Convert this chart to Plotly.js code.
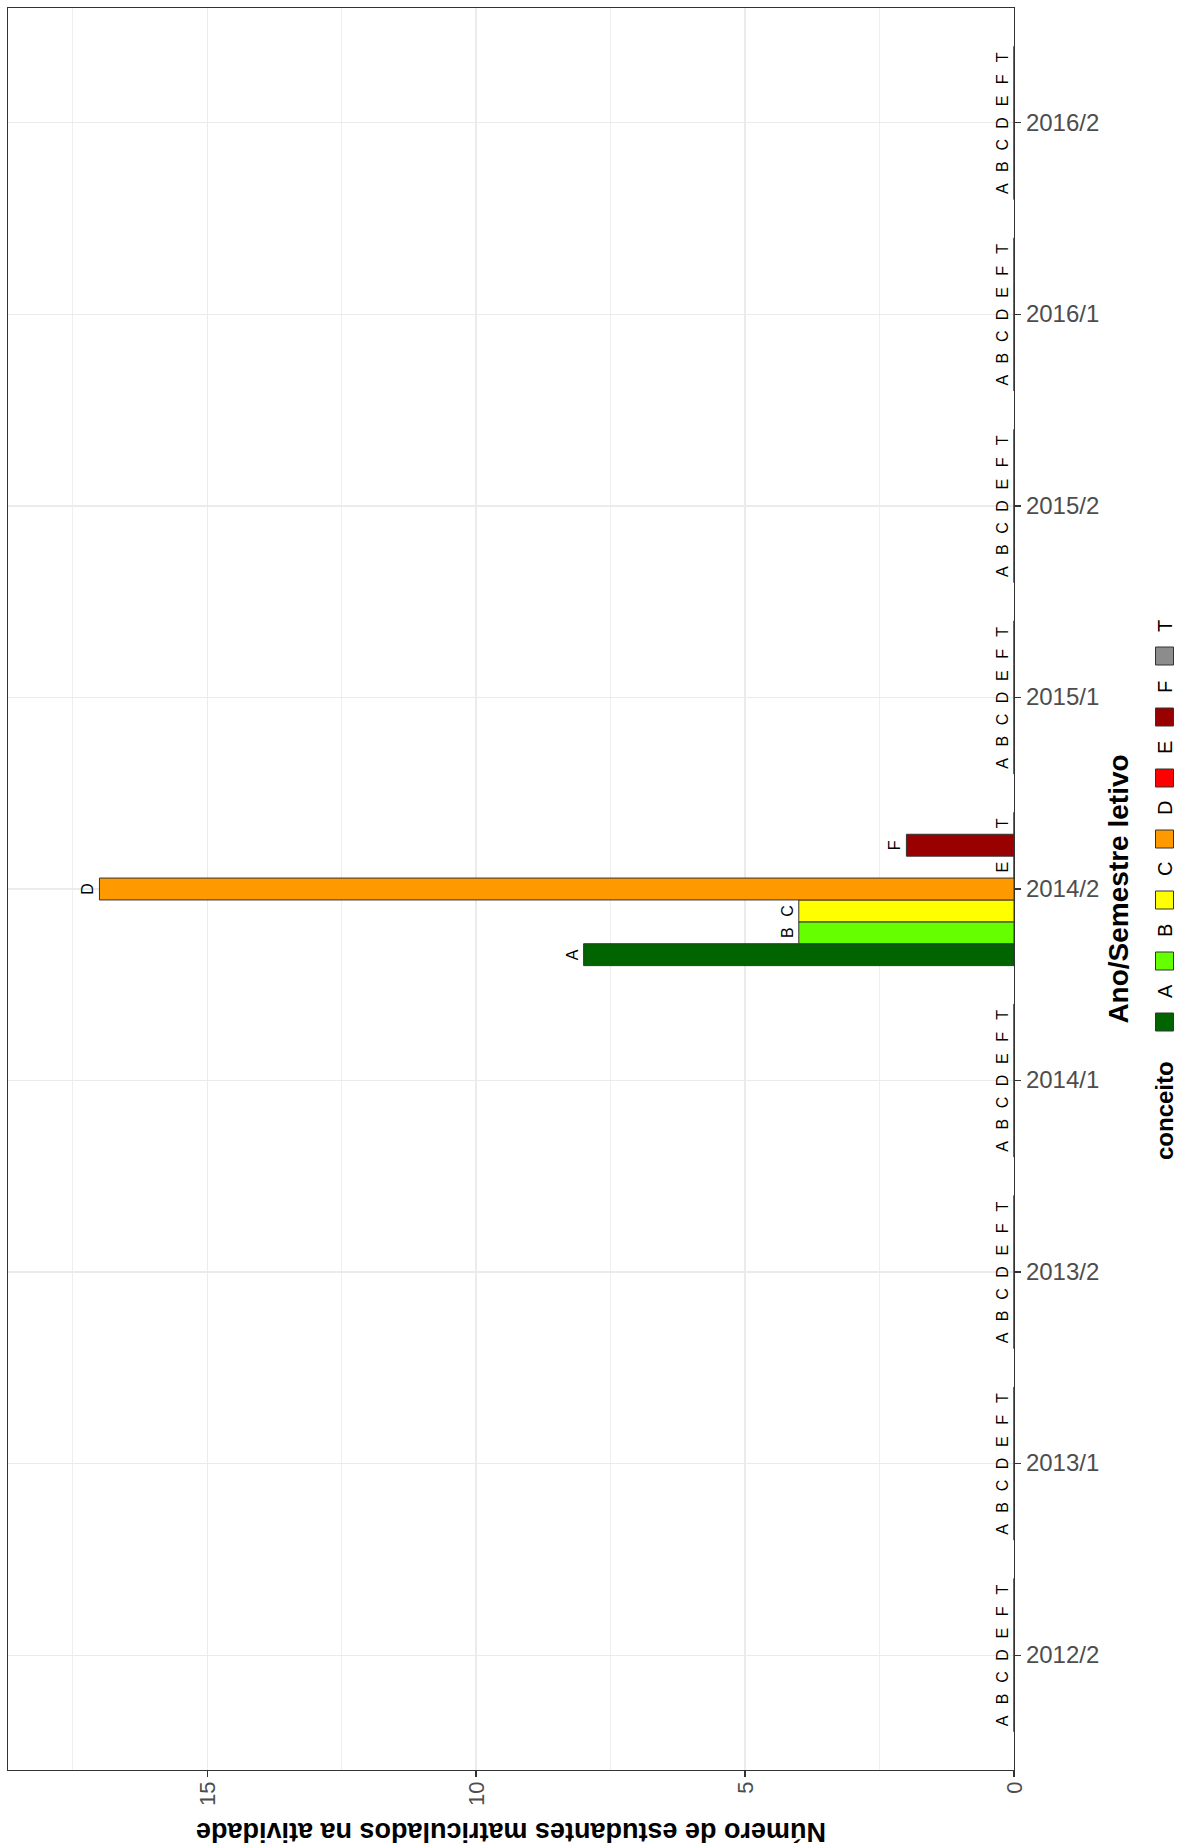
<!DOCTYPE html>
<html>
<head>
<meta charset="utf-8">
<script src="https://cdn.plot.ly/plotly-3.0.1.min.js"></script>
<style>
html, body { margin: 0; padding: 0; overflow: hidden; background: #ffffff; width: 1179px; height: 1847px; }
#wrap { position: absolute; left: 0; top: 0; width: 1847px; height: 1179px;
        transform-origin: 0 0; transform: translate(0px, 1847px) rotate(-90deg); }
</style>
</head>
<body>
<div id="wrap"></div>
<script>
// ---- data ----
const semesters = ['2012/2', '2013/1', '2013/2', '2014/1', '2014/2', '2015/1', '2015/2', '2016/1', '2016/2'];
const conceitos = ['A', 'B', 'C', 'D', 'E', 'F', 'T'];
const countA = [0, 0, 0, 0, 8, 0, 0, 0, 0];
const countB = [0, 0, 0, 0, 4, 0, 0, 0, 0];
const countC = [0, 0, 0, 0, 4, 0, 0, 0, 0];
const countD = [0, 0, 0, 0, 17, 0, 0, 0, 0];
const countE = [0, 0, 0, 0, 0, 0, 0, 0, 0];
const countF = [0, 0, 0, 0, 2, 0, 0, 0, 0];
const countT = [0, 0, 0, 0, 0, 0, 0, 0, 0];
const yTicks = [0, 5, 10, 15];
const yMinorTicks = [2.5, 7.5, 12.5, 17.5];
const colors = ['#006400', '#66FF00', '#FFFF00', '#FF9900', '#FF0000', '#990000', '#8C8C8C'];
const xTitle = 'Ano/Semestre letivo';
const yTitle = 'Número de estudantes matriculados na atividade';
const legendTitle = 'conceito';

const counts = [countA, countB, countC, countD, countE, countF, countT];

// ---- layout constants (unrotated figure, rotated by CSS) ----
const W = 1847, H = 1179;
const M = {l: 77, r: 8, t: 8, b: 165};
const PW = W - M.l - M.r, PH = H - M.t - M.b;
const FONT = 'Liberation Sans, Arial, Helvetica, sans-serif';
const px2x = px => (px - M.l) / PW;
const px2y = py => (H - M.b - py) / PH;

const traces = conceitos.map((c, i) => ({
  type: 'bar',
  name: c,
  x: semesters,
  y: counts[i],
  marker: {color: colors[i], line: {color: '#333333', width: 1}},
  text: semesters.map(() => c),
  textposition: 'outside',
  textangle: 0,
  textfont: {family: FONT, size: 16, color: '#000000'},
  cliponaxis: false,
  showlegend: false,
  hoverinfo: 'none'
}));

// manual legend (keys + labels)
const shapes = [];
const annotations = [];
const keyY = 1164.5, keySize = 18, keyX0 = 816, pitch = 61;
conceitos.forEach((c, i) => {
  const x0 = keyX0 + i * pitch;
  shapes.push({type: 'rect', xref: 'paper', yref: 'paper',
    x0: px2x(x0), x1: px2x(x0 + keySize), y0: px2y(keyY + keySize / 2), y1: px2y(keyY - keySize / 2),
    fillcolor: colors[i], line: {color: '#333333', width: 1}});
  annotations.push({xref: 'paper', yref: 'paper', x: px2x(x0 + 31), y: px2y(keyY),
    xanchor: 'left', yanchor: 'middle', text: c, showarrow: false,
    font: {family: FONT, size: 20, color: '#000000'}});
});
annotations.push({xref: 'paper', yref: 'paper', x: px2x(788), y: px2y(keyY),
  xanchor: 'right', yanchor: 'middle', text: '<b>' + legendTitle + '</b>', showarrow: false,
  font: {family: FONT, size: 24, color: '#000000'}});

const layout = {
  width: W, height: H,
  margin: M,
  paper_bgcolor: '#ffffff', plot_bgcolor: '#ffffff',
  font: {family: FONT, color: '#000000'},
  barmode: 'group', bargap: 0.2, bargroupgap: 0,
  showlegend: false,
  xaxis: {
    type: 'category', categoryorder: 'array', categoryarray: semesters,
    range: [-0.6, semesters.length - 0.4],
    tickangle: 90, ticks: 'outside', ticklen: 6, tickwidth: 1.1, tickcolor: '#333333',
    tickfont: {family: FONT, size: 24, color: '#4D4D4D'},
    showline: true, mirror: true, linecolor: '#333333', linewidth: 1.1,
    showgrid: true, gridcolor: '#EBEBEB', gridwidth: 1.1, zeroline: false,
    title: {text: '<b>' + xTitle + '</b>', font: {family: FONT, size: 28, color: '#000000'}, standoff: 10},
    automargin: false, fixedrange: true
  },
  yaxis: {
    range: [0, 18.7], tickvals: yTicks, ticktext: yTicks.map(String),
    ticks: 'outside', ticklen: 6, tickwidth: 1.1, tickcolor: '#333333',
    tickfont: {family: FONT, size: 22, color: '#4D4D4D'},
    showline: true, mirror: true, linecolor: '#333333', linewidth: 1.1,
    showgrid: true, gridcolor: '#EBEBEB', gridwidth: 1.1, zeroline: false,
    minor: {tickvals: yMinorTicks, showgrid: true, gridcolor: '#EBEBEB', gridwidth: 0.8, ticks: ''},
    title: {text: '<b>' + yTitle + '</b>', font: {family: FONT, size: 27, color: '#000000'}, standoff: 12},
    automargin: false, fixedrange: true
  },
  shapes: shapes,
  annotations: annotations
};

Plotly.newPlot('wrap', traces, layout, {displayModeBar: false, staticPlot: true});
</script>
</body>
</html>
